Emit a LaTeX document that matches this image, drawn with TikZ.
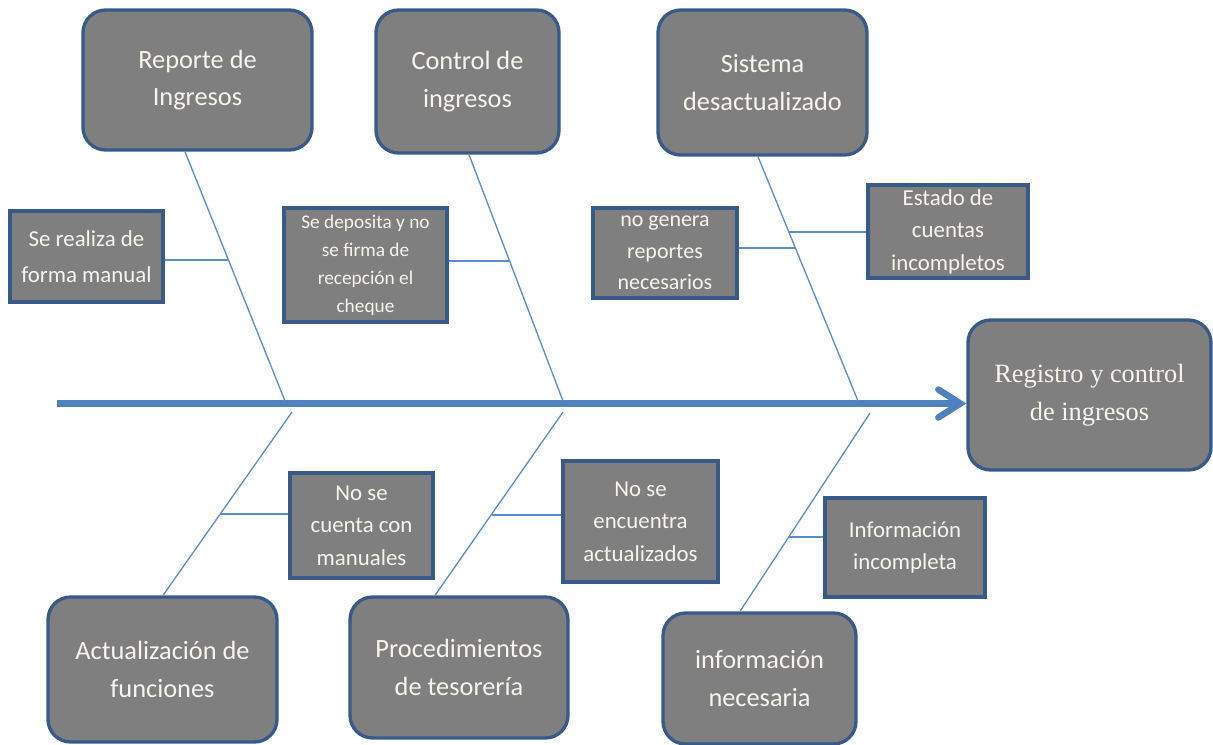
\documentclass[tikz,border=0pt]{standalone}
\usepackage{fontspec}
\setmainfont{Carlito}
\newfontfamily\headfont{Liberation Serif}
\usetikzlibrary{arrows.meta}
\definecolor{boxgray}{HTML}{7F7F7F}
\definecolor{boxblue}{HTML}{385A88}
\definecolor{spinecol}{HTML}{4F81BD}
\definecolor{bonecol}{HTML}{5B8CCB}
\definecolor{txtcol}{HTML}{F7F5EE}
\begin{document}
\begin{tikzpicture}[x=0.02cm,y=-0.02cm,
  boxbase/.style={fill=boxgray, draw=boxblue, line width=1.9pt, text=txtcol,
    align=center, inner sep=0pt},
  bigbox/.style={boxbase, rounded corners=0.45cm, font=\fontsize{15}{21.5}\selectfont},
  smallbox/.style={boxbase, font=\fontsize{13}{18.5}\selectfont},
  bone/.style={draw=bonecol, line width=0.75pt},
  spine/.style={draw=spinecol, line width=3.7pt,
    -{Straight Barb[length=0.44cm,width=0.56cm,line cap=round]}}]
\useasboundingbox (0,0) rectangle (1213,744);

% main category boxes
\node[bigbox, minimum width=4.58cm, minimum height=2.8cm] (rep) at (197.5,80) {Reporte de\\Ingresos};
\node[bigbox, minimum width=3.66cm, minimum height=2.86cm] (ctl) at (467.5,81.5) {Control de\\ingresos};
\node[bigbox, minimum width=4.18cm, minimum height=2.9cm] (sis) at (762.5,82.5) {Sistema\\desactualizado};
\node[bigbox, font=\headfont\fontsize{15}{21.5}\selectfont, minimum width=4.86cm, minimum height=3.0cm] (head) at (1089.5,395) {Registro y control\\de ingresos};
\node[bigbox, minimum width=4.58cm, minimum height=2.9cm] (act) at (162.5,669.5) {Actualización de\\funciones};
\node[bigbox, minimum width=4.36cm, minimum height=2.82cm] (proc) at (459,667.5) {Procedimientos\\de tesorería};
\node[bigbox, minimum width=3.86cm, minimum height=2.62cm] (inf) at (759.5,678.5) {información\\necesaria};

% cause boxes
\node[smallbox, font=\fontsize{13}{20.4}\selectfont, minimum width=3.06cm, minimum height=1.82cm] (c1) at (86.5,256.5) {Se realiza de\\forma manual};
\node[smallbox, font=\fontsize{11}{15.9}\selectfont, minimum width=3.26cm, minimum height=2.28cm] (c2) at (365.5,265) {Se deposita y no\\se firma de\\recepción el\\cheque};
\node[smallbox, font=\fontsize{12.5}{18}\selectfont, minimum width=2.88cm, minimum height=1.8cm] (c3) at (665,253) {no genera\\reportes\\necesarios};
\node[smallbox, minimum width=3.2cm, minimum height=1.86cm] (c4) at (948,231.5) {Estado de\\cuentas\\incompletos};
\node[smallbox, minimum width=2.86cm, minimum height=2.1cm] (c5) at (361.5,525.5) {No se\\cuenta con\\manuales};
\node[smallbox, minimum width=3.1cm, minimum height=2.42cm] (c6) at (640.5,521.5) {No se\\encuentra\\actualizados};
\node[smallbox, minimum width=3.2cm, minimum height=1.98cm] (c7) at (905,547.5) {Información\\incompleta};

% spine
\coordinate (tail) at (57,403.5);
\draw[spine] (tail) -- (head.west |- tail);

% bone coordinates
\coordinate (x1) at (185,0);
\coordinate (x2) at (469,0);
\coordinate (x3) at (758,0);
\coordinate (x4) at (163,0);
\coordinate (x5) at (435,0);
\coordinate (x6) at (740,0);
\coordinate (j1) at (285,401);
\coordinate (j2) at (563,401);
\coordinate (j3) at (858,401);
\coordinate (j4) at (292,412);
\coordinate (j5) at (563,412);
\coordinate (j6) at (870,413);

\draw[bone] (rep.south -| x1) -- (j1);
\draw[bone] (ctl.south -| x2) -- (j2);
\draw[bone] (sis.south -| x3) -- (j3);
\draw[bone] (j4) -- (act.north -| x4);
\draw[bone] (j5) -- (proc.north -| x5);
\draw[bone] (j6) -- (inf.north -| x6);

% sub-bone junctions
\coordinate (k1) at (229,260);
\coordinate (k2) at (510,261);
\coordinate (k3) at (796,248);
\coordinate (k4) at (789,232);
\coordinate (k5) at (221,514);
\coordinate (k6) at (492,515);
\coordinate (k7) at (789,537);

\draw[bone] (c1.east |- k1) -- (k1);
\draw[bone] (c2.east |- k2) -- (k2);
\draw[bone] (c3.east |- k3) -- (k3);
\draw[bone] (k4) -- (c4.west |- k4);
\draw[bone] (k5) -- (c5.west |- k5);
\draw[bone] (k6) -- (c6.west |- k6);
\draw[bone] (k7) -- (c7.west |- k7);
\end{tikzpicture}
\end{document}
